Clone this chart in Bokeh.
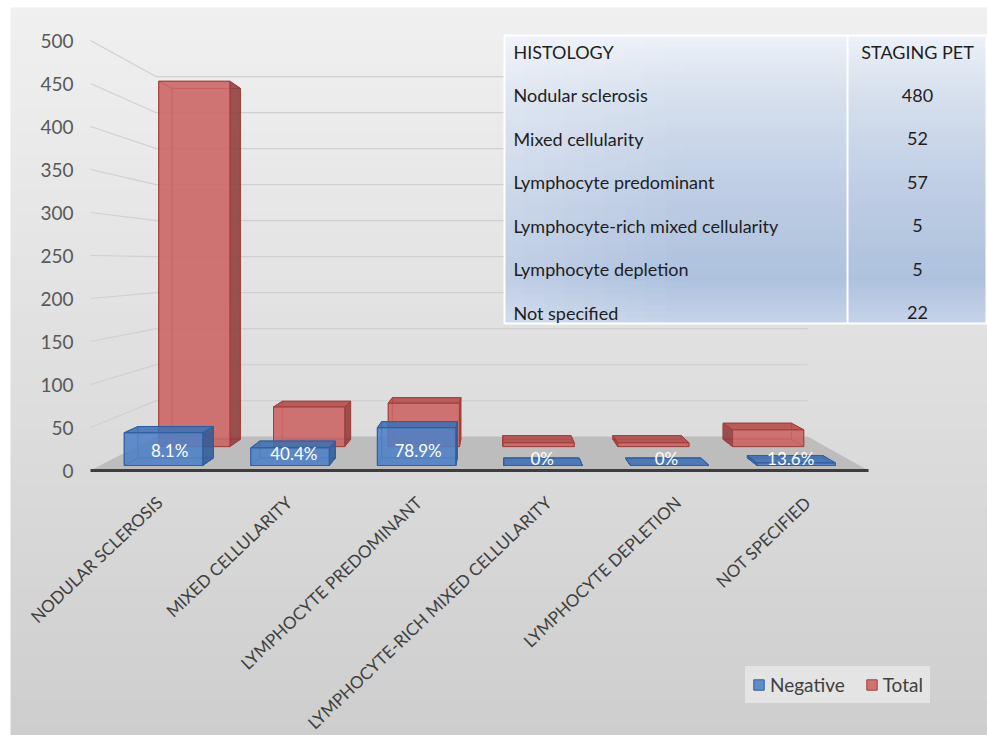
import numpy as np
from bokeh.plotting import figure
from bokeh.models import Range1d, Legend, LegendItem
from bokeh.core.properties import value
from bokeh.embed import file_html
from bokeh.resources import INLINE

# ---------------------------------------------------------------- data
categories = [
    "NODULAR SCLEROSIS",
    "MIXED CELLULARITY",
    "LYMPHOCYTE PREDOMINANT",
    "LYMPHOCYTE-RICH MIXED CELLULARITY",
    "LYMPHOCYTE DEPLETION",
    "NOT SPECIFIED",
]
histology = [
    "Nodular sclerosis",
    "Mixed cellularity",
    "Lymphocyte predominant",
    "Lymphocyte-rich mixed cellularity",
    "Lymphocyte depletion",
    "Not specified",
]
staging_pet = [480, 52, 57, 5, 5, 22]
total = [480, 52, 57, 5, 5, 22]
negative = [39, 21, 45, 0, 0, 3]
y_ticks = [0, 50, 100, 150, 200, 250, 300, 350, 400, 450, 500]

# ---------------------------------------------------------------- geometry
W, H = 987, 735
X0_PX, SLOT_PX = 90, 129.67      # front edge of the floor, width of one category slot
Y0_PX, UNIT_PX = 470, 0.86       # baseline of the front plane, pixels per unit


def xd(px):
    return (px - X0_PX) / SLOT_PX


def yd(py):
    return (Y0_PX - py) / UNIT_PX


# simple perspective: points recede toward a vanishing point
VPX, VPV = xd(494), yd(262)
K_BACK = 0.837                    # scale of the back wall
ROW_NEG = (0.976, 0.94)           # front / back depth scale of the front row
ROW_TOT = (0.885, 0.85)           # same for the rear row
HALF_W = 0.31
N = len(categories)


def proj(x, v, k):
    return VPX + (x - VPX) * k, VPV + (v - VPV) * k


p = figure(
    width=W, height=H,
    x_range=Range1d(xd(0), xd(W)),
    y_range=Range1d(yd(H), yd(0)),
    output_backend="svg", toolbar_location=None,
    x_axis_location=None, y_axis_location=None,
    min_border_left=0, min_border_right=0,
    min_border_top=0, min_border_bottom=0,
)
p.outline_line_color = None
p.grid.visible = False
p.background_fill_color = "white"
p.border_fill_color = "white"

# chart area with a soft vertical gradient
CA_L, CA_T = 10, 7
rows, cols = 64, 4
bg = np.zeros((rows, cols, 4), dtype=np.uint8)
for r in range(rows):
    t = r / (rows - 1)            # 0 = bottom, 1 = top
    c = int(round(206 + (240 - 206) * t))
    bg[r, :, :3] = c
    bg[r, :, 3] = 255
p.image_rgba(image=[bg.view(np.uint32).reshape(rows, cols)],
             x=xd(CA_L), y=yd(H), dw=xd(W) - xd(CA_L), dh=yd(CA_T) - yd(H))

# value axis labels, placed on the front plane
p.text([xd(73)] * len(y_ticks), y_ticks, text=[str(t) for t in y_ticks],
       text_align="right", text_baseline="middle", text_font=value("Lato"),
       text_font_size="19px", text_color="#595959")

# ---------------------------------------------------------------- walls and floor
grid_xs, grid_ys = [], []
for t in y_ticks[1:]:
    bx0, bv = proj(0, t, K_BACK)
    bx1, _ = proj(N, t, K_BACK)
    grid_xs.append([0, bx0, bx1])
    grid_ys.append([t, bv, bv])
p.multi_line(grid_xs, grid_ys, line_color="#d0d0d0", line_width=1.2)

fl = [proj(0, 0, 1), proj(N, 0, 1), proj(N, 0, K_BACK), proj(0, 0, K_BACK)]
p.patch([a for a, _ in fl], [b for _, b in fl], fill_color="#bdbdbd", line_color=None)
p.segment(x0=[0], y0=[0], x1=[N], y1=[0], line_color="#3d3d3d", line_width=3)


# ---------------------------------------------------------------- 3-D columns
def draw_series(vals, row, front_col, top_col, side_col, edge_col, alpha):
    kf, kb = row
    faces = {"side": ([], []), "top": ([], []), "front": ([], [])}
    ex, ey = [], []
    for i, v in enumerate(vals):
        xl, xr = i + 0.5 - HALF_W, i + 0.5 + HALF_W

        def quad(pts):
            pp = [proj(*q) for q in pts]
            return [a for a, _ in pp], [b for _, b in pp]

        corners = {}
        for xn, xx in (("l", xl), ("r", xr)):
            for vn, vv in (("b", 0), ("t", v)):
                for kn, kk in (("f", kf), ("k", kb)):
                    corners[xn + vn + kn] = proj(xx, vv, kk)
        for a, b in [("lbf", "rbf"), ("rbf", "rtf"), ("rtf", "ltf"), ("ltf", "lbf"),
                     ("lbk", "rbk"), ("rbk", "rtk"), ("rtk", "ltk"), ("ltk", "lbk"),
                     ("lbf", "lbk"), ("rbf", "rbk"), ("rtf", "rtk"), ("ltf", "ltk")]:
            ex.append([corners[a][0], corners[b][0]])
            ey.append([corners[a][1], corners[b][1]])

        fx, fy = quad([(xl, 0, kf), (xr, 0, kf), (xr, v, kf), (xl, v, kf)])
        faces["front"][0].append(fx); faces["front"][1].append(fy)
        if v < VPV:
            tx, ty = quad([(xl, v, kf), (xr, v, kf), (xr, v, kb), (xl, v, kb)])
            faces["top"][0].append(tx); faces["top"][1].append(ty)
        if xr < VPX:
            sx_, sy_ = quad([(xr, 0, kf), (xr, 0, kb), (xr, v, kb), (xr, v, kf)])
            faces["side"][0].append(sx_); faces["side"][1].append(sy_)
        elif xl > VPX:
            sx_, sy_ = quad([(xl, 0, kf), (xl, 0, kb), (xl, v, kb), (xl, v, kf)])
            faces["side"][0].append(sx_); faces["side"][1].append(sy_)

    p.multi_line(ex, ey, line_color=edge_col, line_width=1, line_alpha=0.9)
    p.patches(*faces["side"], fill_color=side_col, fill_alpha=alpha,
              line_color=edge_col, line_width=1)
    p.patches(*faces["top"], fill_color=top_col, fill_alpha=alpha,
              line_color=edge_col, line_width=1)
    return p.patches(*faces["front"], fill_color=front_col, fill_alpha=alpha,
                     line_color=edge_col, line_width=1)


r_tot = draw_series(total, ROW_TOT, "#cb6361", "#b34a47", "#8e3b39", "#a3403d", 0.88)
r_neg = draw_series(negative, ROW_NEG, "#4d80c6", "#3e6fb3", "#2f5c99", "#2f5e9f", 0.88)

# percentage of negative scans, written on the front row
pct_text = [f"{n / t * 100:.1f}%" if n else "0%" for n, t in zip(negative, total)]
k_mid = sum(ROW_NEG) / 2
lx, ly = [], []
for i, n in enumerate(negative):
    a, b = proj(i + 0.5, min(max(n / 2, 4), 14), k_mid)
    lx.append(a); ly.append(b)
p.text(lx, ly, text=pct_text, text_color="white", text_align="center",
       text_baseline="middle", text_font=value("Lato"), text_font_size="17px")

# category labels
p.text([i + 0.5 for i in range(N)], [yd(499)] * N, text=categories, angle=0.76,
       x_offset=4, text_align="right", text_baseline="middle",
       text_font=value("Lato"), text_font_size="17px", text_color="#404040")

# ---------------------------------------------------------------- table
T_L, T_R, T_T, T_B, T_DIV = 504, 986, 35, 323, 847
trows, tcols = 48, 24
tb = np.zeros((trows, tcols, 4), dtype=np.uint8)
stops_t = [0.0, 0.2, 0.55, 0.85, 1.0]      # 0 = top
stops_c = [(236, 240, 247), (214, 224, 238), (190, 205, 228), (174, 193, 222), (196, 210, 232)]
for r in range(trows):
    t = 1 - r / (trows - 1)
    c = np.array([np.interp(t, stops_t, [s[j] for s in stops_c]) for j in range(3)])
    for cc in range(tcols):
        h = cc / (tcols - 1)
        mix = max(0.0, 0.35 - h) * 0.6
        tb[r, cc, :3] = np.round(c + (255 - c) * mix).astype(np.uint8)
        tb[r, cc, 3] = 255
p.image_rgba(image=[tb.view(np.uint32).reshape(trows, tcols)],
             x=xd(T_L), y=yd(T_B), dw=xd(T_R) - xd(T_L), dh=yd(T_T) - yd(T_B))
p.quad(left=[xd(T_L)], right=[xd(T_R)], top=[yd(T_T)], bottom=[yd(T_B)],
       fill_color=None, line_color="white", line_width=2)
p.segment(x0=[xd(T_DIV)], y0=[yd(T_T)], x1=[xd(T_DIV)], y1=[yd(T_B)],
          line_color="white", line_width=2)

row_py = [51 + 43.5 * j for j in range(N + 1)]
p.text([xd(513)] * (N + 1), [yd(py) for py in row_py], text=["HISTOLOGY"] + histology,
       text_align="left", text_baseline="middle", text_font=value("Lato"),
       text_font_size="18px", text_color="#1e1e1e")
p.text([xd(917)] * (N + 1), [yd(py) for py in row_py],
       text=["STAGING PET"] + [str(s) for s in staging_pet],
       text_align="center", text_baseline="middle", text_font=value("Lato"),
       text_font_size="18px", text_color="#1e1e1e")

# ---------------------------------------------------------------- legend
legend = Legend(
    items=[LegendItem(label="Negative", renderers=[r_neg]),
           LegendItem(label="Total", renderers=[r_tot])],
    location=(745, 32), orientation="horizontal",
    label_text_font="Lato", label_text_font_size="19px", label_text_color="#404040",
    glyph_width=13, glyph_height=13, label_standoff=5, spacing=20,
    padding=7, margin=0, label_height=20,
    background_fill_color="#e4e4e4", background_fill_alpha=1, border_line_alpha=0,
)
p.add_layout(legend)

open("out.html", "w").write(file_html(p, INLINE))
